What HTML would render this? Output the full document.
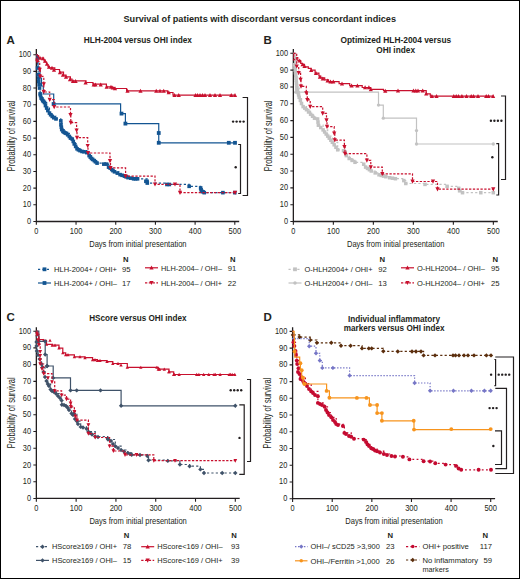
<!DOCTYPE html>
<html><head><meta charset="utf-8"><style>
html,body{margin:0;padding:0;background:#fff;}
svg{display:block;}
text{font-family:"Liberation Sans",sans-serif;fill:#231f20;}
.ti{font-size:9.9px;font-weight:bold;}
.pl{font-size:11.5px;font-weight:bold;}
.pt{font-size:8.4px;font-weight:bold;}
.tk{font-size:8.4px;}
.at{font-size:9.6px;}
.yl{font-size:10.2px;}
.lg{font-size:7.7px;}
.nn{font-size:7.7px;font-weight:bold;}
</style></head><body>
<svg width="520" height="579" viewBox="0 0 520 579">
<rect x="0" y="0" width="520" height="579" fill="#fff"/>
<rect x="0.5" y="0.5" width="519" height="578" fill="none" stroke="#000" stroke-width="1"/>

<text x="123.5" y="21.5" class="ti" textLength="272.5" lengthAdjust="spacingAndGlyphs">Survival of patients with discordant versus concordant indices</text>
<text x="6.4" y="43.8" class="pl">A</text>
<text x="83.7" y="43" class="pt" textLength="108.3" lengthAdjust="spacingAndGlyphs">HLH-2004 versus OHI index</text>
<path d="M36.35 49V221.5H239.2" fill="none" stroke="#231f20" stroke-width="1.3"/>
<path d="M33.35 221.5H36.35M33.35 204.82H36.35M33.35 188.14H36.35M33.35 171.46H36.35M33.35 154.78H36.35M33.35 138.1H36.35M33.35 121.42H36.35M33.35 104.74H36.35M33.35 88.06H36.35M33.35 71.38H36.35M33.35 54.7H36.35M36.35 221.5V224.7M76.04 221.5V224.7M115.73 221.5V224.7M155.42 221.5V224.7M195.11 221.5V224.7M234.8 221.5V224.7" stroke="#231f20" stroke-width="1.1"/>
<text x="31.05" y="224" text-anchor="end" class="tk" textLength="4.1" lengthAdjust="spacingAndGlyphs">0</text>
<text x="31.05" y="207.32" text-anchor="end" class="tk" textLength="8.3" lengthAdjust="spacingAndGlyphs">10</text>
<text x="31.05" y="190.64" text-anchor="end" class="tk" textLength="8.3" lengthAdjust="spacingAndGlyphs">20</text>
<text x="31.05" y="173.96" text-anchor="end" class="tk" textLength="8.3" lengthAdjust="spacingAndGlyphs">30</text>
<text x="31.05" y="157.28" text-anchor="end" class="tk" textLength="8.3" lengthAdjust="spacingAndGlyphs">40</text>
<text x="31.05" y="140.6" text-anchor="end" class="tk" textLength="8.3" lengthAdjust="spacingAndGlyphs">50</text>
<text x="31.05" y="123.92" text-anchor="end" class="tk" textLength="8.3" lengthAdjust="spacingAndGlyphs">60</text>
<text x="31.05" y="107.24" text-anchor="end" class="tk" textLength="8.3" lengthAdjust="spacingAndGlyphs">70</text>
<text x="31.05" y="90.56" text-anchor="end" class="tk" textLength="8.3" lengthAdjust="spacingAndGlyphs">80</text>
<text x="31.05" y="73.88" text-anchor="end" class="tk" textLength="8.3" lengthAdjust="spacingAndGlyphs">90</text>
<text x="31.05" y="57.2" text-anchor="end" class="tk" textLength="12.4" lengthAdjust="spacingAndGlyphs">100</text>
<text x="36.35" y="233.8" text-anchor="middle" class="tk" textLength="4.1" lengthAdjust="spacingAndGlyphs">0</text>
<text x="76.04" y="233.8" text-anchor="middle" class="tk" textLength="12.6" lengthAdjust="spacingAndGlyphs">100</text>
<text x="115.73" y="233.8" text-anchor="middle" class="tk" textLength="12.6" lengthAdjust="spacingAndGlyphs">200</text>
<text x="155.42" y="233.8" text-anchor="middle" class="tk" textLength="12.6" lengthAdjust="spacingAndGlyphs">300</text>
<text x="195.11" y="233.8" text-anchor="middle" class="tk" textLength="12.6" lengthAdjust="spacingAndGlyphs">400</text>
<text x="234.8" y="233.8" text-anchor="middle" class="tk" textLength="12.6" lengthAdjust="spacingAndGlyphs">500</text>
<text x="137.88" y="246.9" text-anchor="middle" class="at" textLength="97.4" lengthAdjust="spacingAndGlyphs">Days from initial presentation</text>
<text transform="translate(15.05 135.9) rotate(-90)" text-anchor="middle" class="yl" textLength="70.8" lengthAdjust="spacingAndGlyphs">Probability of survival</text>
<path d="M36.35 54.7H37.1V55.7H38.6V58H43.6V60H45V62H46.5V64.5H48V66.5H49.4V67.8H54.8V69.5H59.5V72.1H63.5V75.2H66V76.95H70.4V79H72V80.8H86V82.5H92.9V84.2H106.4V86.8H112V87.7H114.5V88.5H126.6V90.8H167.5V92.5H173V95.2H234.8" fill="none" stroke="#c8102e" stroke-width="1.2"/>
<path d="M35.4 58.8L39.6 58.8L37.5 54.8Z" fill="#c8102e"/>
<path d="M37.9 59.8L42.1 59.8L40 55.8Z" fill="#c8102e"/>
<path d="M40.9 60.3L45.1 60.3L43 56.3Z" fill="#c8102e"/>
<path d="M42.9 62.8L47.1 62.8L45 58.8Z" fill="#c8102e"/>
<path d="M44.9 65.8L49.1 65.8L47 61.8Z" fill="#c8102e"/>
<path d="M46.9 68.8L51.1 68.8L49 64.8Z" fill="#c8102e"/>
<path d="M49.9 69.8L54.1 69.8L52 65.8Z" fill="#c8102e"/>
<path d="M51.9 71.8L56.1 71.8L54 67.8Z" fill="#c8102e"/>
<path d="M57.9 74.3L62.1 74.3L60 70.3Z" fill="#c8102e"/>
<path d="M60.9 76.8L65.1 76.8L63 72.8Z" fill="#c8102e"/>
<path d="M63.9 78.8L68.1 78.8L66 74.8Z" fill="#c8102e"/>
<path d="M67.9 81.3L72.1 81.3L70 77.3Z" fill="#c8102e"/>
<path d="M70.9 82.9L75.1 82.9L73 78.9Z" fill="#c8102e"/>
<path d="M73.5 82.9L77.7 82.9L75.6 78.9Z" fill="#c8102e"/>
<path d="M83.5 84.6L87.7 84.6L85.6 80.6Z" fill="#c8102e"/>
<path d="M91.6 86.4L95.8 86.4L93.7 82.4Z" fill="#c8102e"/>
<path d="M93.4 86.4L97.6 86.4L95.5 82.4Z" fill="#c8102e"/>
<path d="M98.6 86.4L102.8 86.4L100.7 82.4Z" fill="#c8102e"/>
<path d="M104.6 88.8L108.8 88.8L106.7 84.8Z" fill="#c8102e"/>
<path d="M108.9 88.8L113.1 88.8L111 84.8Z" fill="#c8102e"/>
<path d="M110.7 89.5L114.9 89.5L112.8 85.5Z" fill="#c8102e"/>
<path d="M112.9 90.3L117.1 90.3L115 86.3Z" fill="#c8102e"/>
<path d="M125.4 92.8L129.6 92.8L127.5 88.8Z" fill="#c8102e"/>
<path d="M138.4 92.8L142.6 92.8L140.5 88.8Z" fill="#c8102e"/>
<path d="M154.15 92.8L158.35 92.8L156.25 88.8Z" fill="#c8102e"/>
<path d="M157.9 92.8L162.1 92.8L160 88.8Z" fill="#c8102e"/>
<path d="M161.65 92.8L165.85 92.8L163.75 88.8Z" fill="#c8102e"/>
<path d="M166.65 94.3L170.85 94.3L168.75 90.3Z" fill="#c8102e"/>
<path d="M172.4 97.1L176.6 97.1L174.5 93.1Z" fill="#c8102e"/>
<path d="M176.65 97.1L180.85 97.1L178.75 93.1Z" fill="#c8102e"/>
<path d="M193.4 97.1L197.6 97.1L195.5 93.1Z" fill="#c8102e"/>
<path d="M195.4 97.1L199.6 97.1L197.5 93.1Z" fill="#c8102e"/>
<path d="M197.9 97.1L202.1 97.1L200 93.1Z" fill="#c8102e"/>
<path d="M200.4 97.1L204.6 97.1L202.5 93.1Z" fill="#c8102e"/>
<path d="M202.9 97.1L207.1 97.1L205 93.1Z" fill="#c8102e"/>
<path d="M207.9 97.1L212.1 97.1L210 93.1Z" fill="#c8102e"/>
<path d="M212.9 97.1L217.1 97.1L215 93.1Z" fill="#c8102e"/>
<path d="M217.9 97.1L222.1 97.1L220 93.1Z" fill="#c8102e"/>
<path d="M229.15 97.1L233.35 97.1L231.25 93.1Z" fill="#c8102e"/>
<path d="M232.9 97.1L237.1 97.1L235 93.1Z" fill="#c8102e"/>
<path d="M36.35 54.7H37V58H38V68H40V78H41.5V86H43.3V94H53.7V103.9H120.6V113.6H125.4V123.6H158.75V133H158.75V142.8H234.8" fill="none" stroke="#135592" stroke-width="1.2"/>
<rect x="51.7" y="102.1" width="3.8" height="3.8" fill="#135592"/>
<rect x="119.6" y="111.7" width="3.8" height="3.8" fill="#135592"/>
<rect x="123.5" y="121.7" width="3.8" height="3.8" fill="#135592"/>
<rect x="156.85" y="131.1" width="3.8" height="3.8" fill="#135592"/>
<rect x="156.85" y="140.9" width="3.8" height="3.8" fill="#135592"/>
<rect x="226.9" y="140.9" width="3.8" height="3.8" fill="#135592"/>
<rect x="233.1" y="140.9" width="3.8" height="3.8" fill="#135592"/>
<path d="M36.35 54.7H36.95V61.37H37.54V68.04H38.14V74.72H38.73V81.39H39.53V88.06H40.12V93.9H41.11V98.07H42.7V100.57H44.53V102.57H46.67V108.08H49.45V113.08H52.23V116.42H56V118.92H60.8V120.92H61.75V129.59H64.13V132.26H66.51V133.43H69.29V136.43H72.27V139.1H74.25V143.94H77.03V148.78H80.01V150.61H86.76V152.61H89.14V155.61H91.52V158.45H94.3V160.62H97.08V163.12H106.6V164.12H108.59V167.12H111.76V169.46H114.54V171.79H120.1V174.63H124.46V176.13H128.03V177.63H133.59V178.8H147.09V181.3H147.28V183.05H166.93V184.47H189.16V186.31H200.67V187.97H201.86V191.31H204.24V192.64H234.8" fill="none" stroke="#135592" stroke-width="1.2" stroke-dasharray="2.2 2.2"/>
<rect x="35.74" y="66.24" width="3.61" height="3.61" fill="#135592"/>
<rect x="36.33" y="72.91" width="3.61" height="3.61" fill="#135592"/>
<rect x="36.93" y="79.58" width="3.61" height="3.61" fill="#135592"/>
<rect x="37.72" y="86.25" width="3.61" height="3.61" fill="#135592"/>
<rect x="38.32" y="92.09" width="3.61" height="3.61" fill="#135592"/>
<rect x="39.31" y="96.26" width="3.61" height="3.61" fill="#135592"/>
<rect x="40.9" y="98.77" width="3.61" height="3.61" fill="#135592"/>
<rect x="42.72" y="100.77" width="3.61" height="3.61" fill="#135592"/>
<rect x="44.86" y="106.27" width="3.61" height="3.61" fill="#135592"/>
<rect x="47.64" y="111.27" width="3.61" height="3.61" fill="#135592"/>
<rect x="50.42" y="114.61" width="3.61" height="3.61" fill="#135592"/>
<rect x="54.19" y="117.11" width="3.61" height="3.61" fill="#135592"/>
<rect x="58.99" y="119.11" width="3.61" height="3.61" fill="#135592"/>
<rect x="59.95" y="127.79" width="3.61" height="3.61" fill="#135592"/>
<rect x="62.33" y="130.46" width="3.61" height="3.61" fill="#135592"/>
<rect x="64.71" y="131.62" width="3.61" height="3.61" fill="#135592"/>
<rect x="67.49" y="134.63" width="3.61" height="3.61" fill="#135592"/>
<rect x="70.46" y="137.3" width="3.61" height="3.61" fill="#135592"/>
<rect x="72.45" y="142.13" width="3.61" height="3.61" fill="#135592"/>
<rect x="75.23" y="146.97" width="3.61" height="3.61" fill="#135592"/>
<rect x="78.2" y="148.81" width="3.61" height="3.61" fill="#135592"/>
<rect x="84.95" y="150.81" width="3.61" height="3.61" fill="#135592"/>
<rect x="87.33" y="153.81" width="3.61" height="3.61" fill="#135592"/>
<rect x="89.71" y="156.64" width="3.61" height="3.61" fill="#135592"/>
<rect x="92.49" y="158.81" width="3.61" height="3.61" fill="#135592"/>
<rect x="95.27" y="161.31" width="3.61" height="3.61" fill="#135592"/>
<rect x="104.8" y="162.32" width="3.61" height="3.61" fill="#135592"/>
<rect x="106.78" y="165.32" width="3.61" height="3.61" fill="#135592"/>
<rect x="109.96" y="167.65" width="3.61" height="3.61" fill="#135592"/>
<rect x="112.73" y="169.99" width="3.61" height="3.61" fill="#135592"/>
<rect x="118.29" y="172.82" width="3.61" height="3.61" fill="#135592"/>
<rect x="122.66" y="174.33" width="3.61" height="3.61" fill="#135592"/>
<rect x="126.23" y="175.83" width="3.61" height="3.61" fill="#135592"/>
<rect x="131.79" y="176.99" width="3.61" height="3.61" fill="#135592"/>
<rect x="145.28" y="179.5" width="3.61" height="3.61" fill="#135592"/>
<rect x="145.48" y="181.25" width="3.61" height="3.61" fill="#135592"/>
<rect x="165.13" y="182.67" width="3.61" height="3.61" fill="#135592"/>
<rect x="187.35" y="184.5" width="3.61" height="3.61" fill="#135592"/>
<rect x="198.86" y="186.17" width="3.61" height="3.61" fill="#135592"/>
<rect x="200.05" y="189.5" width="3.61" height="3.61" fill="#135592"/>
<rect x="202.43" y="190.84" width="3.61" height="3.61" fill="#135592"/>
<rect x="36.73" y="76.25" width="3.61" height="3.61" fill="#135592"/>
<rect x="37.32" y="82.92" width="3.61" height="3.61" fill="#135592"/>
<rect x="38.71" y="93.76" width="3.61" height="3.61" fill="#135592"/>
<rect x="40.1" y="97.1" width="3.61" height="3.61" fill="#135592"/>
<rect x="41.69" y="99.6" width="3.61" height="3.61" fill="#135592"/>
<rect x="43.67" y="103.77" width="3.61" height="3.61" fill="#135592"/>
<rect x="46.06" y="108.77" width="3.61" height="3.61" fill="#135592"/>
<rect x="48.83" y="112.94" width="3.61" height="3.61" fill="#135592"/>
<rect x="52.01" y="115.95" width="3.61" height="3.61" fill="#135592"/>
<rect x="59.15" y="122.95" width="3.61" height="3.61" fill="#135592"/>
<rect x="59.55" y="125.45" width="3.61" height="3.61" fill="#135592"/>
<rect x="61.14" y="129.62" width="3.61" height="3.61" fill="#135592"/>
<rect x="63.52" y="131.29" width="3.61" height="3.61" fill="#135592"/>
<rect x="65.9" y="132.96" width="3.61" height="3.61" fill="#135592"/>
<rect x="68.68" y="136.3" width="3.61" height="3.61" fill="#135592"/>
<rect x="71.46" y="139.63" width="3.61" height="3.61" fill="#135592"/>
<rect x="73.84" y="144.63" width="3.61" height="3.61" fill="#135592"/>
<rect x="76.62" y="147.97" width="3.61" height="3.61" fill="#135592"/>
<rect x="80.19" y="149.64" width="3.61" height="3.61" fill="#135592"/>
<rect x="82.17" y="149.97" width="3.61" height="3.61" fill="#135592"/>
<rect x="88.52" y="155.31" width="3.61" height="3.61" fill="#135592"/>
<rect x="90.9" y="157.65" width="3.61" height="3.61" fill="#135592"/>
<rect x="93.68" y="159.98" width="3.61" height="3.61" fill="#135592"/>
<rect x="102.02" y="162.32" width="3.61" height="3.61" fill="#135592"/>
<rect x="108.37" y="166.32" width="3.61" height="3.61" fill="#135592"/>
<rect x="111.15" y="168.82" width="3.61" height="3.61" fill="#135592"/>
<rect x="115.51" y="171.32" width="3.61" height="3.61" fill="#135592"/>
<rect x="120.28" y="173.49" width="3.61" height="3.61" fill="#135592"/>
<rect x="124.24" y="174.99" width="3.61" height="3.61" fill="#135592"/>
<rect x="129.01" y="176.33" width="3.61" height="3.61" fill="#135592"/>
<rect x="133.77" y="176.99" width="3.61" height="3.61" fill="#135592"/>
<rect x="135.75" y="176.99" width="3.61" height="3.61" fill="#135592"/>
<rect x="144.09" y="179.5" width="3.61" height="3.61" fill="#135592"/>
<rect x="167.51" y="182.67" width="3.61" height="3.61" fill="#135592"/>
<rect x="199.26" y="188" width="3.61" height="3.61" fill="#135592"/>
<rect x="201.24" y="190" width="3.61" height="3.61" fill="#135592"/>
<rect x="221.09" y="190.84" width="3.61" height="3.61" fill="#135592"/>
<rect x="232.99" y="190.84" width="3.61" height="3.61" fill="#135592"/>
<path d="M36.35 54.7H37.1V61.4H39.7V69.7H40.2V76.4H43.8V84.2H43.8V92H49.7V99.7H54.2V107H70.5V115H70.8V122.7H76.6V130.4H77V137.7H87.7V145.8H88V153H110V161H110.5V167.9H125.6V176.1H155V184.3H180V192.6H234.8" fill="none" stroke="#c8102e" stroke-width="1.2" stroke-dasharray="2.3 1.5"/>
<path d="M35 59.51L39.2 59.51L37.1 63.71Z" fill="#c8102e"/>
<path d="M37.6 67.81L41.8 67.81L39.7 72.01Z" fill="#c8102e"/>
<path d="M38.1 74.51L42.3 74.51L40.2 78.71Z" fill="#c8102e"/>
<path d="M41.7 82.31L45.9 82.31L43.8 86.51Z" fill="#c8102e"/>
<path d="M41.7 90.11L45.9 90.11L43.8 94.31Z" fill="#c8102e"/>
<path d="M47.6 97.81L51.8 97.81L49.7 102.01Z" fill="#c8102e"/>
<path d="M52.1 105.11L56.3 105.11L54.2 109.31Z" fill="#c8102e"/>
<path d="M68.4 113.11L72.6 113.11L70.5 117.31Z" fill="#c8102e"/>
<path d="M68.7 120.81L72.9 120.81L70.8 125.01Z" fill="#c8102e"/>
<path d="M74.5 128.51L78.7 128.51L76.6 132.71Z" fill="#c8102e"/>
<path d="M74.9 135.81L79.1 135.81L77 140.01Z" fill="#c8102e"/>
<path d="M85.6 143.91L89.8 143.91L87.7 148.11Z" fill="#c8102e"/>
<path d="M85.9 151.11L90.1 151.11L88 155.31Z" fill="#c8102e"/>
<path d="M107.9 159.11L112.1 159.11L110 163.31Z" fill="#c8102e"/>
<path d="M108.4 166.01L112.6 166.01L110.5 170.21Z" fill="#c8102e"/>
<path d="M123.5 174.21L127.7 174.21L125.6 178.41Z" fill="#c8102e"/>
<path d="M152.9 182.41L157.1 182.41L155 186.61Z" fill="#c8102e"/>
<path d="M177.9 190.71L182.1 190.71L180 194.91Z" fill="#c8102e"/>
<path d="M172.9 182.41L177.1 182.41L175 186.61Z" fill="#c8102e"/>
<path d="M233 190.71L237.2 190.71L235.1 194.91Z" fill="#c8102e"/>
<path d="M242.6 97.5H247.5V195.5H242.6" fill="none" stroke="#231f20" stroke-width="1.2"/>
<path d="M238.2 144.5H240.5V193.5H238.2" fill="none" stroke="#231f20" stroke-width="1.2"/>
<g fill="#231f20"><circle cx="233.1" cy="121.6" r="1.2"/><circle cx="236.6" cy="121.6" r="1.2"/><circle cx="240.1" cy="121.6" r="1.2"/><circle cx="243.6" cy="121.6" r="1.2"/></g>
<g fill="#231f20"><circle cx="235.7" cy="167.2" r="1.2"/></g>
<text x="123" y="261.9" class="nn">N</text>
<text x="230" y="261.9" class="nn">N</text>
<path d="M38 269.3H51" stroke="#135592" stroke-width="1.2" stroke-dasharray="2.2 2.2"/>
<rect x="42.6" y="267.4" width="3.8" height="3.8" fill="#135592"/>
<text x="54" y="272" class="lg" textLength="63" lengthAdjust="spacingAndGlyphs">HLH-2004+ / OHI+</text>
<text x="130.5" y="272" class="lg" text-anchor="end">95</text>
<path d="M38 283H51" stroke="#135592" stroke-width="1.2"/>
<rect x="42.6" y="281.1" width="3.8" height="3.8" fill="#135592"/>
<text x="54" y="285.7" class="lg" textLength="63" lengthAdjust="spacingAndGlyphs">HLH-2004+ / OHI–</text>
<text x="130.5" y="285.7" class="lg" text-anchor="end">17</text>
<path d="M145 267.8H158" stroke="#c8102e" stroke-width="1.2"/>
<path d="M149.4 269.6L153.6 269.6L151.5 265.6Z" fill="#c8102e"/>
<text x="161" y="270.5" class="lg" textLength="61" lengthAdjust="spacingAndGlyphs">HLH-2004– / OHI–</text>
<text x="236.3" y="270.5" class="lg" text-anchor="end">91</text>
<path d="M145 282.8H158" stroke="#c8102e" stroke-width="1.2" stroke-dasharray="2.3 1.5"/>
<path d="M149.4 280.91L153.6 280.91L151.5 285.11Z" fill="#c8102e"/>
<text x="161" y="285.5" class="lg" textLength="61" lengthAdjust="spacingAndGlyphs">HLH-2004– / OHI+</text>
<text x="236.3" y="285.5" class="lg" text-anchor="end">22</text>
<text x="263.4" y="43.6" class="pl">B</text>
<text x="340.5" y="43" class="pt" textLength="110.7" lengthAdjust="spacingAndGlyphs">Optimized HLH-2004 versus</text>
<text x="376.3" y="52.5" class="pt" textLength="38.7" lengthAdjust="spacingAndGlyphs">OHI index</text>
<path d="M293.35 49V221.5H497.75" fill="none" stroke="#231f20" stroke-width="1.3"/>
<path d="M290.35 221.5H293.35M290.35 204.68H293.35M290.35 187.86H293.35M290.35 171.04H293.35M290.35 154.22H293.35M290.35 137.4H293.35M290.35 120.58H293.35M290.35 103.76H293.35M290.35 86.94H293.35M290.35 70.12H293.35M290.35 53.3H293.35M293.35 221.5V224.7M333.35 221.5V224.7M373.35 221.5V224.7M413.35 221.5V224.7M453.35 221.5V224.7M493.35 221.5V224.7" stroke="#231f20" stroke-width="1.1"/>
<text x="288.05" y="224" text-anchor="end" class="tk" textLength="4.1" lengthAdjust="spacingAndGlyphs">0</text>
<text x="288.05" y="207.18" text-anchor="end" class="tk" textLength="8.3" lengthAdjust="spacingAndGlyphs">10</text>
<text x="288.05" y="190.36" text-anchor="end" class="tk" textLength="8.3" lengthAdjust="spacingAndGlyphs">20</text>
<text x="288.05" y="173.54" text-anchor="end" class="tk" textLength="8.3" lengthAdjust="spacingAndGlyphs">30</text>
<text x="288.05" y="156.72" text-anchor="end" class="tk" textLength="8.3" lengthAdjust="spacingAndGlyphs">40</text>
<text x="288.05" y="139.9" text-anchor="end" class="tk" textLength="8.3" lengthAdjust="spacingAndGlyphs">50</text>
<text x="288.05" y="123.08" text-anchor="end" class="tk" textLength="8.3" lengthAdjust="spacingAndGlyphs">60</text>
<text x="288.05" y="106.26" text-anchor="end" class="tk" textLength="8.3" lengthAdjust="spacingAndGlyphs">70</text>
<text x="288.05" y="89.44" text-anchor="end" class="tk" textLength="8.3" lengthAdjust="spacingAndGlyphs">80</text>
<text x="288.05" y="72.62" text-anchor="end" class="tk" textLength="8.3" lengthAdjust="spacingAndGlyphs">90</text>
<text x="288.05" y="55.8" text-anchor="end" class="tk" textLength="12.4" lengthAdjust="spacingAndGlyphs">100</text>
<text x="293.35" y="233.8" text-anchor="middle" class="tk" textLength="4.1" lengthAdjust="spacingAndGlyphs">0</text>
<text x="333.35" y="233.8" text-anchor="middle" class="tk" textLength="12.6" lengthAdjust="spacingAndGlyphs">100</text>
<text x="373.35" y="233.8" text-anchor="middle" class="tk" textLength="12.6" lengthAdjust="spacingAndGlyphs">200</text>
<text x="413.35" y="233.8" text-anchor="middle" class="tk" textLength="12.6" lengthAdjust="spacingAndGlyphs">300</text>
<text x="453.35" y="233.8" text-anchor="middle" class="tk" textLength="12.6" lengthAdjust="spacingAndGlyphs">400</text>
<text x="493.35" y="233.8" text-anchor="middle" class="tk" textLength="12.6" lengthAdjust="spacingAndGlyphs">500</text>
<text x="395.65" y="246.9" text-anchor="middle" class="at" textLength="97.4" lengthAdjust="spacingAndGlyphs">Days from initial presentation</text>
<text transform="translate(272.05 135.9) rotate(-90)" text-anchor="middle" class="yl" textLength="70.8" lengthAdjust="spacingAndGlyphs">Probability of survival</text>
<path d="M293.35 53.3H293.9V57.7H297.8V60.6H300.7V63.5H302.6V64.4H304.5V66.9H308.3V68.3H311.2V70.2H315.1V73.1H318.9V76H320.8V77.9H324.7V79.8H328.5V81.7H339.1V83.7H349.7V85.6H362.2V87.5H370.8V89.4H383.5V90.6H426.2V93.8H430.3V96.2H493.35" fill="none" stroke="#c8102e" stroke-width="1.2"/>
<path d="M292.8 60.5L297 60.5L294.9 56.5Z" fill="#c8102e"/>
<path d="M297.6 62.4L301.8 62.4L299.7 58.4Z" fill="#c8102e"/>
<path d="M300.5 66.2L304.7 66.2L302.6 62.2Z" fill="#c8102e"/>
<path d="M302.4 68.1L306.6 68.1L304.5 64.1Z" fill="#c8102e"/>
<path d="M309.1 72L313.3 72L311.2 68Z" fill="#c8102e"/>
<path d="M313.9 74.9L318.1 74.9L316 70.9Z" fill="#c8102e"/>
<path d="M317.8 78.7L322 78.7L319.9 74.7Z" fill="#c8102e"/>
<path d="M320.7 80.6L324.9 80.6L322.8 76.6Z" fill="#c8102e"/>
<path d="M325.5 82.6L329.7 82.6L327.6 78.6Z" fill="#c8102e"/>
<path d="M328.4 83.5L332.6 83.5L330.5 79.5Z" fill="#c8102e"/>
<path d="M331.2 83.5L335.4 83.5L333.3 79.5Z" fill="#c8102e"/>
<path d="M339.9 85.5L344.1 85.5L342 81.5Z" fill="#c8102e"/>
<path d="M349.5 87.4L353.7 87.4L351.6 83.4Z" fill="#c8102e"/>
<path d="M355.3 87.4L359.5 87.4L357.4 83.4Z" fill="#c8102e"/>
<path d="M363 89.3L367.2 89.3L365.1 85.3Z" fill="#c8102e"/>
<path d="M366.8 89.3L371 89.3L368.9 85.3Z" fill="#c8102e"/>
<path d="M368.7 91.2L372.9 91.2L370.8 87.2Z" fill="#c8102e"/>
<path d="M383.2 92.8L387.4 92.8L385.3 88.8Z" fill="#c8102e"/>
<path d="M395.9 92.4L400.1 92.4L398 88.4Z" fill="#c8102e"/>
<path d="M411.4 92.4L415.6 92.4L413.5 88.4Z" fill="#c8102e"/>
<path d="M413.7 92.4L417.9 92.4L415.8 88.4Z" fill="#c8102e"/>
<path d="M415.9 92.4L420.1 92.4L418 88.4Z" fill="#c8102e"/>
<path d="M420.6 92.4L424.8 92.4L422.7 88.4Z" fill="#c8102e"/>
<path d="M424.1 95.6L428.3 95.6L426.2 91.6Z" fill="#c8102e"/>
<path d="M429.8 98L434 98L431.9 94Z" fill="#c8102e"/>
<path d="M434.4 98L438.6 98L436.5 94Z" fill="#c8102e"/>
<path d="M451.7 98L455.9 98L453.8 94Z" fill="#c8102e"/>
<path d="M454.1 98L458.3 98L456.2 94Z" fill="#c8102e"/>
<path d="M456.4 98L460.6 98L458.5 94Z" fill="#c8102e"/>
<path d="M459.8 98L464 98L461.9 94Z" fill="#c8102e"/>
<path d="M464.4 98L468.6 98L466.5 94Z" fill="#c8102e"/>
<path d="M469.1 98L473.3 98L471.2 94Z" fill="#c8102e"/>
<path d="M471.4 98L475.6 98L473.5 94Z" fill="#c8102e"/>
<path d="M475.9 98L480.1 98L478 94Z" fill="#c8102e"/>
<path d="M484.1 98L488.3 98L486.2 94Z" fill="#c8102e"/>
<path d="M486.4 98L490.6 98L488.5 94Z" fill="#c8102e"/>
<path d="M491 98L495.2 98L493.1 94Z" fill="#c8102e"/>
<path d="M293.35 53.3H294.6V64.7H295.8V75.5H296.9V88H299.2V97.3H301.5V103.5H303.1V106.6H306.5V109.7H310.6V114.3H314.5V118.2H317.6V119H318.4V125.2H323.1V129.9H327.7V136.1H332.4V142.3H337.7V149.8H343.5V150.8H346.3V155.6H349.2V158.5H352.1V160.4H355V162.3H363.7V164.2H365.6V167.1H371.3V171H375.2V172.9H379V174.8H385.8V176.7H389.6V177.7H395.4V178.7H403.8V180.6H405.8V183.5H425V184.4H447.1V186.3H458.7V188.3H459.6V190.8H462.5V192.7H480.8V192.7H493.3V192.7H493.35" fill="none" stroke="#c2c2c2" stroke-width="1.2" stroke-dasharray="2.2 2.2"/>
<rect x="292.85" y="62.95" width="3.5" height="3.5" fill="#c2c2c2"/>
<rect x="293.15" y="65.65" width="3.5" height="3.5" fill="#c2c2c2"/>
<rect x="293.45" y="68.35" width="3.5" height="3.5" fill="#c2c2c2"/>
<rect x="293.75" y="71.05" width="3.5" height="3.5" fill="#c2c2c2"/>
<rect x="294.05" y="73.75" width="3.5" height="3.5" fill="#c2c2c2"/>
<rect x="294.27" y="76.25" width="3.5" height="3.5" fill="#c2c2c2"/>
<rect x="294.49" y="78.75" width="3.5" height="3.5" fill="#c2c2c2"/>
<rect x="294.71" y="81.25" width="3.5" height="3.5" fill="#c2c2c2"/>
<rect x="294.93" y="83.75" width="3.5" height="3.5" fill="#c2c2c2"/>
<rect x="295.15" y="86.25" width="3.5" height="3.5" fill="#c2c2c2"/>
<rect x="295.73" y="88.58" width="3.5" height="3.5" fill="#c2c2c2"/>
<rect x="296.3" y="90.9" width="3.5" height="3.5" fill="#c2c2c2"/>
<rect x="296.88" y="93.23" width="3.5" height="3.5" fill="#c2c2c2"/>
<rect x="297.45" y="95.55" width="3.5" height="3.5" fill="#c2c2c2"/>
<rect x="298.6" y="98.65" width="3.5" height="3.5" fill="#c2c2c2"/>
<rect x="299.75" y="101.75" width="3.5" height="3.5" fill="#c2c2c2"/>
<rect x="301.35" y="104.85" width="3.5" height="3.5" fill="#c2c2c2"/>
<rect x="303.05" y="106.4" width="3.5" height="3.5" fill="#c2c2c2"/>
<rect x="304.75" y="107.95" width="3.5" height="3.5" fill="#c2c2c2"/>
<rect x="306.8" y="110.25" width="3.5" height="3.5" fill="#c2c2c2"/>
<rect x="308.85" y="112.55" width="3.5" height="3.5" fill="#c2c2c2"/>
<rect x="310.8" y="114.5" width="3.5" height="3.5" fill="#c2c2c2"/>
<rect x="312.75" y="116.45" width="3.5" height="3.5" fill="#c2c2c2"/>
<rect x="315.85" y="117.25" width="3.5" height="3.5" fill="#c2c2c2"/>
<rect x="316.25" y="120.35" width="3.5" height="3.5" fill="#c2c2c2"/>
<rect x="316.65" y="123.45" width="3.5" height="3.5" fill="#c2c2c2"/>
<rect x="319" y="125.8" width="3.5" height="3.5" fill="#c2c2c2"/>
<rect x="321.35" y="128.15" width="3.5" height="3.5" fill="#c2c2c2"/>
<rect x="322.89" y="130.22" width="3.5" height="3.5" fill="#c2c2c2"/>
<rect x="324.42" y="132.29" width="3.5" height="3.5" fill="#c2c2c2"/>
<rect x="325.95" y="134.35" width="3.5" height="3.5" fill="#c2c2c2"/>
<rect x="327.52" y="136.42" width="3.5" height="3.5" fill="#c2c2c2"/>
<rect x="329.09" y="138.49" width="3.5" height="3.5" fill="#c2c2c2"/>
<rect x="330.65" y="140.55" width="3.5" height="3.5" fill="#c2c2c2"/>
<rect x="332.42" y="143.05" width="3.5" height="3.5" fill="#c2c2c2"/>
<rect x="334.19" y="145.55" width="3.5" height="3.5" fill="#c2c2c2"/>
<rect x="335.95" y="148.05" width="3.5" height="3.5" fill="#c2c2c2"/>
<rect x="341.75" y="149.05" width="3.5" height="3.5" fill="#c2c2c2"/>
<rect x="344.55" y="153.85" width="3.5" height="3.5" fill="#c2c2c2"/>
<rect x="347.45" y="156.75" width="3.5" height="3.5" fill="#c2c2c2"/>
<rect x="350.35" y="158.65" width="3.5" height="3.5" fill="#c2c2c2"/>
<rect x="353.25" y="160.55" width="3.5" height="3.5" fill="#c2c2c2"/>
<rect x="361.95" y="162.45" width="3.5" height="3.5" fill="#c2c2c2"/>
<rect x="363.85" y="165.35" width="3.5" height="3.5" fill="#c2c2c2"/>
<rect x="365.75" y="166.65" width="3.5" height="3.5" fill="#c2c2c2"/>
<rect x="367.65" y="167.95" width="3.5" height="3.5" fill="#c2c2c2"/>
<rect x="369.55" y="169.25" width="3.5" height="3.5" fill="#c2c2c2"/>
<rect x="373.45" y="171.15" width="3.5" height="3.5" fill="#c2c2c2"/>
<rect x="377.25" y="173.05" width="3.5" height="3.5" fill="#c2c2c2"/>
<rect x="379.52" y="173.69" width="3.5" height="3.5" fill="#c2c2c2"/>
<rect x="381.79" y="174.32" width="3.5" height="3.5" fill="#c2c2c2"/>
<rect x="384.05" y="174.95" width="3.5" height="3.5" fill="#c2c2c2"/>
<rect x="387.85" y="175.95" width="3.5" height="3.5" fill="#c2c2c2"/>
<rect x="390.75" y="176.45" width="3.5" height="3.5" fill="#c2c2c2"/>
<rect x="393.65" y="176.95" width="3.5" height="3.5" fill="#c2c2c2"/>
<rect x="402.05" y="178.85" width="3.5" height="3.5" fill="#c2c2c2"/>
<rect x="404.05" y="181.75" width="3.5" height="3.5" fill="#c2c2c2"/>
<rect x="423.25" y="182.65" width="3.5" height="3.5" fill="#c2c2c2"/>
<rect x="445.35" y="184.55" width="3.5" height="3.5" fill="#c2c2c2"/>
<rect x="456.95" y="186.55" width="3.5" height="3.5" fill="#c2c2c2"/>
<rect x="457.85" y="189.05" width="3.5" height="3.5" fill="#c2c2c2"/>
<rect x="460.75" y="190.95" width="3.5" height="3.5" fill="#c2c2c2"/>
<rect x="479.05" y="190.95" width="3.5" height="3.5" fill="#c2c2c2"/>
<rect x="491.55" y="190.95" width="3.5" height="3.5" fill="#c2c2c2"/>
<path d="M293.35 53.3H295.8V92.2H378.5V105.1H383.3V118.2H416.5V130.6H416.5V144H493.35" fill="none" stroke="#c2c2c2" stroke-width="1.2"/>
<circle cx="295.8" cy="92.2" r="1.66" fill="#c2c2c2"/>
<circle cx="378.5" cy="105.1" r="1.66" fill="#c2c2c2"/>
<circle cx="383.3" cy="118.2" r="1.66" fill="#c2c2c2"/>
<circle cx="416.5" cy="130.6" r="1.66" fill="#c2c2c2"/>
<circle cx="416.5" cy="144" r="1.66" fill="#c2c2c2"/>
<circle cx="493.3" cy="144" r="1.66" fill="#c2c2c2"/>
<path d="M293.35 53.3H296.7V66.3H298.7V73H300.6V79.7H301V86.4H306.3V93.2H307.3V99.9H310.2V106.7H322.7V113.4H326.5V120.1H327V126.7H334.2V133.5H334.8V140.2H344.4V146.9H345V153.7H366.9V160.4H370.8V167.1H382.3V173.8H412.5V181.5H437.5V189.2H493.35" fill="none" stroke="#c8102e" stroke-width="1.2" stroke-dasharray="2.3 1.5"/>
<path d="M294.6 64.41L298.8 64.41L296.7 68.61Z" fill="#c8102e"/>
<path d="M296.6 71.11L300.8 71.11L298.7 75.31Z" fill="#c8102e"/>
<path d="M298.5 77.81L302.7 77.81L300.6 82.01Z" fill="#c8102e"/>
<path d="M298.9 84.51L303.1 84.51L301 88.71Z" fill="#c8102e"/>
<path d="M304.2 91.31L308.4 91.31L306.3 95.51Z" fill="#c8102e"/>
<path d="M305.2 98.01L309.4 98.01L307.3 102.21Z" fill="#c8102e"/>
<path d="M308.1 104.81L312.3 104.81L310.2 109.01Z" fill="#c8102e"/>
<path d="M320.6 111.51L324.8 111.51L322.7 115.71Z" fill="#c8102e"/>
<path d="M324.4 118.21L328.6 118.21L326.5 122.41Z" fill="#c8102e"/>
<path d="M324.9 124.81L329.1 124.81L327 129.01Z" fill="#c8102e"/>
<path d="M332.1 131.61L336.3 131.61L334.2 135.81Z" fill="#c8102e"/>
<path d="M332.7 138.31L336.9 138.31L334.8 142.51Z" fill="#c8102e"/>
<path d="M342.3 145.01L346.5 145.01L344.4 149.21Z" fill="#c8102e"/>
<path d="M342.9 151.81L347.1 151.81L345 156.01Z" fill="#c8102e"/>
<path d="M364.8 158.51L369 158.51L366.9 162.71Z" fill="#c8102e"/>
<path d="M368.7 165.21L372.9 165.21L370.8 169.41Z" fill="#c8102e"/>
<path d="M380.2 171.91L384.4 171.91L382.3 176.11Z" fill="#c8102e"/>
<path d="M410.4 179.61L414.6 179.61L412.5 183.81Z" fill="#c8102e"/>
<path d="M435.4 187.31L439.6 187.31L437.5 191.51Z" fill="#c8102e"/>
<path d="M430.9 179.61L435.1 179.61L433 183.81Z" fill="#c8102e"/>
<path d="M491.2 187.31L495.4 187.31L493.3 191.51Z" fill="#c8102e"/>
<path d="M501 96H505.5V179.5H501" fill="none" stroke="#231f20" stroke-width="1.2"/>
<path d="M496.3 143.6H498.6V195H496.3" fill="none" stroke="#231f20" stroke-width="1.2"/>
<g fill="#231f20"><circle cx="490.9" cy="120.75" r="1.2"/><circle cx="494.4" cy="120.75" r="1.2"/><circle cx="497.9" cy="120.75" r="1.2"/><circle cx="501.4" cy="120.75" r="1.2"/></g>
<g fill="#231f20"><circle cx="492.35" cy="157.2" r="1.2"/></g>
<text x="379.4" y="261.9" class="nn">N</text>
<text x="492.5" y="261.9" class="nn">N</text>
<path d="M288.5 269.3H301.5" stroke="#c2c2c2" stroke-width="1.2" stroke-dasharray="2.2 2.2"/>
<rect x="293.1" y="267.4" width="3.8" height="3.8" fill="#c2c2c2"/>
<text x="304.5" y="272" class="lg" textLength="68" lengthAdjust="spacingAndGlyphs">O-HLH2004+ / OHI+</text>
<text x="386.8" y="272" class="lg" text-anchor="end">92</text>
<path d="M288.5 283H301.5" stroke="#c2c2c2" stroke-width="1.2"/>
<circle cx="295" cy="283" r="1.75" fill="#c2c2c2"/>
<text x="304.5" y="285.7" class="lg" textLength="68" lengthAdjust="spacingAndGlyphs">O-HLH2004+ / OHI–</text>
<text x="386.8" y="285.7" class="lg" text-anchor="end">13</text>
<path d="M401 267.8H414" stroke="#c8102e" stroke-width="1.2"/>
<path d="M405.4 269.6L409.6 269.6L407.5 265.6Z" fill="#c8102e"/>
<text x="417" y="270.5" class="lg" textLength="68" lengthAdjust="spacingAndGlyphs">O-HLH2004– / OHI–</text>
<text x="499.5" y="270.5" class="lg" text-anchor="end">95</text>
<path d="M401 282.8H414" stroke="#c8102e" stroke-width="1.2" stroke-dasharray="2.3 1.5"/>
<path d="M405.4 280.91L409.6 280.91L407.5 285.11Z" fill="#c8102e"/>
<text x="417" y="285.5" class="lg" textLength="68" lengthAdjust="spacingAndGlyphs">O-HLH2004– / OHI+</text>
<text x="499.5" y="285.5" class="lg" text-anchor="end">25</text>
<text x="6.6" y="321" class="pl">C</text>
<text x="89.2" y="321.2" class="pt" textLength="97.3" lengthAdjust="spacingAndGlyphs">HScore versus OHI index</text>
<path d="M36.35 327.3V498.45H239.7" fill="none" stroke="#231f20" stroke-width="1.3"/>
<path d="M33.35 498.45H36.35M33.35 481.72H36.35M33.35 465H36.35M33.35 448.27H36.35M33.35 431.55H36.35M33.35 414.82H36.35M33.35 398.1H36.35M33.35 381.38H36.35M33.35 364.65H36.35M33.35 347.92H36.35M33.35 331.2H36.35M36.35 498.45V501.65M76.14 498.45V501.65M115.93 498.45V501.65M155.72 498.45V501.65M195.51 498.45V501.65M235.3 498.45V501.65" stroke="#231f20" stroke-width="1.1"/>
<text x="31.05" y="500.95" text-anchor="end" class="tk" textLength="4.1" lengthAdjust="spacingAndGlyphs">0</text>
<text x="31.05" y="484.22" text-anchor="end" class="tk" textLength="8.3" lengthAdjust="spacingAndGlyphs">10</text>
<text x="31.05" y="467.5" text-anchor="end" class="tk" textLength="8.3" lengthAdjust="spacingAndGlyphs">20</text>
<text x="31.05" y="450.77" text-anchor="end" class="tk" textLength="8.3" lengthAdjust="spacingAndGlyphs">30</text>
<text x="31.05" y="434.05" text-anchor="end" class="tk" textLength="8.3" lengthAdjust="spacingAndGlyphs">40</text>
<text x="31.05" y="417.32" text-anchor="end" class="tk" textLength="8.3" lengthAdjust="spacingAndGlyphs">50</text>
<text x="31.05" y="400.6" text-anchor="end" class="tk" textLength="8.3" lengthAdjust="spacingAndGlyphs">60</text>
<text x="31.05" y="383.88" text-anchor="end" class="tk" textLength="8.3" lengthAdjust="spacingAndGlyphs">70</text>
<text x="31.05" y="367.15" text-anchor="end" class="tk" textLength="8.3" lengthAdjust="spacingAndGlyphs">80</text>
<text x="31.05" y="350.42" text-anchor="end" class="tk" textLength="8.3" lengthAdjust="spacingAndGlyphs">90</text>
<text x="31.05" y="333.7" text-anchor="end" class="tk" textLength="12.4" lengthAdjust="spacingAndGlyphs">100</text>
<text x="36.35" y="510.75" text-anchor="middle" class="tk" textLength="4.1" lengthAdjust="spacingAndGlyphs">0</text>
<text x="76.14" y="510.75" text-anchor="middle" class="tk" textLength="12.6" lengthAdjust="spacingAndGlyphs">100</text>
<text x="115.93" y="510.75" text-anchor="middle" class="tk" textLength="12.6" lengthAdjust="spacingAndGlyphs">200</text>
<text x="155.72" y="510.75" text-anchor="middle" class="tk" textLength="12.6" lengthAdjust="spacingAndGlyphs">300</text>
<text x="195.51" y="510.75" text-anchor="middle" class="tk" textLength="12.6" lengthAdjust="spacingAndGlyphs">400</text>
<text x="235.3" y="510.75" text-anchor="middle" class="tk" textLength="12.6" lengthAdjust="spacingAndGlyphs">500</text>
<text x="138.12" y="523.85" text-anchor="middle" class="at" textLength="97.4" lengthAdjust="spacingAndGlyphs">Days from initial presentation</text>
<text transform="translate(15.05 412.85) rotate(-90)" text-anchor="middle" class="yl" textLength="70.8" lengthAdjust="spacingAndGlyphs">Probability of survival</text>
<path d="M36.35 331.2H36.9V334.7H38.8V339.5H43.6V340.4H46.5V344.3H52.3V345.2H59V348.1H62.8V352.9H65.7V354.8H74.4V356.8H85V357.7H92.6V359.7H97.5V360.6H107V361.6H112.8V363.5H127.3V367.4H158.3V369.2H169V371.8H173.7V374.5H235.3" fill="none" stroke="#c8102e" stroke-width="1.2"/>
<path d="M35.22 336.14L38.58 336.14L36.9 332.94Z" fill="#c8102e"/>
<path d="M37.12 340.94L40.48 340.94L38.8 337.74Z" fill="#c8102e"/>
<path d="M41.92 341.84L45.28 341.84L43.6 338.64Z" fill="#c8102e"/>
<path d="M44.82 345.74L48.18 345.74L46.5 342.54Z" fill="#c8102e"/>
<path d="M50.62 346.64L53.98 346.64L52.3 343.44Z" fill="#c8102e"/>
<path d="M57.32 349.54L60.68 349.54L59 346.34Z" fill="#c8102e"/>
<path d="M61.12 354.34L64.48 354.34L62.8 351.14Z" fill="#c8102e"/>
<path d="M64.02 356.24L67.38 356.24L65.7 353.04Z" fill="#c8102e"/>
<path d="M72.72 358.24L76.08 358.24L74.4 355.04Z" fill="#c8102e"/>
<path d="M83.32 359.14L86.68 359.14L85 355.94Z" fill="#c8102e"/>
<path d="M90.92 361.14L94.28 361.14L92.6 357.94Z" fill="#c8102e"/>
<path d="M95.82 362.04L99.18 362.04L97.5 358.84Z" fill="#c8102e"/>
<path d="M105.32 363.04L108.68 363.04L107 359.84Z" fill="#c8102e"/>
<path d="M111.12 364.94L114.48 364.94L112.8 361.74Z" fill="#c8102e"/>
<path d="M125.62 368.84L128.98 368.84L127.3 365.64Z" fill="#c8102e"/>
<path d="M156.62 370.64L159.98 370.64L158.3 367.44Z" fill="#c8102e"/>
<path d="M167.32 373.24L170.68 373.24L169 370.04Z" fill="#c8102e"/>
<path d="M172.02 375.94L175.38 375.94L173.7 372.74Z" fill="#c8102e"/>
<path d="M48.32 341.84L51.68 341.84L50 338.64Z" fill="#c8102e"/>
<path d="M53.32 346.64L56.68 346.64L55 343.44Z" fill="#c8102e"/>
<path d="M66.32 356.24L69.68 356.24L68 353.04Z" fill="#c8102e"/>
<path d="M78.32 358.24L81.68 358.24L80 355.04Z" fill="#c8102e"/>
<path d="M93.32 361.14L96.68 361.14L95 357.94Z" fill="#c8102e"/>
<path d="M98.32 362.04L101.68 362.04L100 358.84Z" fill="#c8102e"/>
<path d="M116.32 364.94L119.68 364.94L118 361.74Z" fill="#c8102e"/>
<path d="M119.32 366.44L122.68 366.44L121 363.24Z" fill="#c8102e"/>
<path d="M139.12 368.84L142.48 368.84L140.8 365.64Z" fill="#c8102e"/>
<path d="M155.22 368.84L158.58 368.84L156.9 365.64Z" fill="#c8102e"/>
<path d="M157.92 370.64L161.28 370.64L159.6 367.44Z" fill="#c8102e"/>
<path d="M162.62 370.64L165.98 370.64L164.3 367.44Z" fill="#c8102e"/>
<path d="M167.32 373.24L170.68 373.24L169 370.04Z" fill="#c8102e"/>
<path d="M172.72 375.94L176.08 375.94L174.4 372.74Z" fill="#c8102e"/>
<path d="M177.42 375.94L180.78 375.94L179.1 372.74Z" fill="#c8102e"/>
<path d="M195.02 375.94L198.38 375.94L196.7 372.74Z" fill="#c8102e"/>
<path d="M197.22 375.94L200.58 375.94L198.9 372.74Z" fill="#c8102e"/>
<path d="M202.02 375.94L205.38 375.94L203.7 372.74Z" fill="#c8102e"/>
<path d="M207.12 375.94L210.48 375.94L208.8 372.74Z" fill="#c8102e"/>
<path d="M212.32 375.94L215.68 375.94L214 372.74Z" fill="#c8102e"/>
<path d="M213.62 375.94L216.98 375.94L215.3 372.74Z" fill="#c8102e"/>
<path d="M218.42 375.94L221.78 375.94L220.1 372.74Z" fill="#c8102e"/>
<path d="M227.52 375.94L230.88 375.94L229.2 372.74Z" fill="#c8102e"/>
<path d="M228.82 375.94L232.18 375.94L230.5 372.74Z" fill="#c8102e"/>
<path d="M230.52 375.94L233.88 375.94L232.2 372.74Z" fill="#c8102e"/>
<path d="M233.12 375.94L236.48 375.94L234.8 372.74Z" fill="#c8102e"/>
<path d="M36.35 331.2H38.8V341.4H45.2V354.5H47.1V366H53.2V377.9H70.5V390.4H121.1V405.8H235.3" fill="none" stroke="#3f5269" stroke-width="1.2"/>
<path d="M38.8 339.2L41 341.4L38.8 343.6L36.6 341.4Z" fill="#3f5269"/>
<path d="M45.2 352.3L47.4 354.5L45.2 356.7L43 354.5Z" fill="#3f5269"/>
<path d="M47.1 363.8L49.3 366L47.1 368.2L44.9 366Z" fill="#3f5269"/>
<path d="M53.2 375.7L55.4 377.9L53.2 380.1L51 377.9Z" fill="#3f5269"/>
<path d="M70.5 388.2L72.7 390.4L70.5 392.6L68.3 390.4Z" fill="#3f5269"/>
<path d="M121.1 403.6L123.3 405.8L121.1 408L118.9 405.8Z" fill="#3f5269"/>
<path d="M76.7 388.2L78.9 390.4L76.7 392.6L74.5 390.4Z" fill="#3f5269"/>
<path d="M100.5 388.2L102.7 390.4L100.5 392.6L98.3 390.4Z" fill="#3f5269"/>
<path d="M235.3 403.6L237.5 405.8L235.3 408L233.1 405.8Z" fill="#3f5269"/>
<path d="M45.2 339.2L47.4 341.4L45.2 343.6L43 341.4Z" fill="#3f5269"/>
<path d="M47.1 363.8L49.3 366L47.1 368.2L44.9 366Z" fill="#3f5269"/>
<path d="M36.35 331.2H36.5V342H36.6V346H36.9V351H38V355H39.6V359.1H41.5V364H42.3V367.4H45V377.1H47.8V384H50.6V389.5H56.1V393.7H61.6V400.6H61.9V404.8H67.7V407.7H71.5V413.5H74V413.5H76.9V421.2H80.7V426.9H86.5V428.8H88.4V431.7H95.2V436.5H107.7V438.5H108V439.5H115.3V446.2H121.1V450H127.8V452.9H131.7V454.8H147.3V456H148.5V460.2H167.8V460.9H179.9V464.5H189.6V466.2H200.4V469.4H204V473H235.3" fill="none" stroke="#3f5269" stroke-width="1.2" stroke-dasharray="2.2 2.2"/>
<path d="M36.5 339.8L38.7 342L36.5 344.2L34.3 342Z" fill="#3f5269"/>
<path d="M36.6 343.8L38.8 346L36.6 348.2L34.4 346Z" fill="#3f5269"/>
<path d="M36.9 348.8L39.1 351L36.9 353.2L34.7 351Z" fill="#3f5269"/>
<path d="M38 352.8L40.2 355L38 357.2L35.8 355Z" fill="#3f5269"/>
<path d="M39.6 356.9L41.8 359.1L39.6 361.3L37.4 359.1Z" fill="#3f5269"/>
<path d="M41.5 361.8L43.7 364L41.5 366.2L39.3 364Z" fill="#3f5269"/>
<path d="M42.3 365.2L44.5 367.4L42.3 369.6L40.1 367.4Z" fill="#3f5269"/>
<path d="M45 374.9L47.2 377.1L45 379.3L42.8 377.1Z" fill="#3f5269"/>
<path d="M47.8 381.8L50 384L47.8 386.2L45.6 384Z" fill="#3f5269"/>
<path d="M50.6 387.3L52.8 389.5L50.6 391.7L48.4 389.5Z" fill="#3f5269"/>
<path d="M56.1 391.5L58.3 393.7L56.1 395.9L53.9 393.7Z" fill="#3f5269"/>
<path d="M61.6 398.4L63.8 400.6L61.6 402.8L59.4 400.6Z" fill="#3f5269"/>
<path d="M61.9 402.6L64.1 404.8L61.9 407L59.7 404.8Z" fill="#3f5269"/>
<path d="M67.7 405.5L69.9 407.7L67.7 409.9L65.5 407.7Z" fill="#3f5269"/>
<path d="M71.5 411.3L73.7 413.5L71.5 415.7L69.3 413.5Z" fill="#3f5269"/>
<path d="M74 411.3L76.2 413.5L74 415.7L71.8 413.5Z" fill="#3f5269"/>
<path d="M76.9 419L79.1 421.2L76.9 423.4L74.7 421.2Z" fill="#3f5269"/>
<path d="M80.7 424.7L82.9 426.9L80.7 429.1L78.5 426.9Z" fill="#3f5269"/>
<path d="M86.5 426.6L88.7 428.8L86.5 431L84.3 428.8Z" fill="#3f5269"/>
<path d="M88.4 429.5L90.6 431.7L88.4 433.9L86.2 431.7Z" fill="#3f5269"/>
<path d="M95.2 434.3L97.4 436.5L95.2 438.7L93 436.5Z" fill="#3f5269"/>
<path d="M107.7 436.3L109.9 438.5L107.7 440.7L105.5 438.5Z" fill="#3f5269"/>
<path d="M108 437.3L110.2 439.5L108 441.7L105.8 439.5Z" fill="#3f5269"/>
<path d="M115.3 444L117.5 446.2L115.3 448.4L113.1 446.2Z" fill="#3f5269"/>
<path d="M121.1 447.8L123.3 450L121.1 452.2L118.9 450Z" fill="#3f5269"/>
<path d="M127.8 450.7L130 452.9L127.8 455.1L125.6 452.9Z" fill="#3f5269"/>
<path d="M131.7 452.6L133.9 454.8L131.7 457L129.5 454.8Z" fill="#3f5269"/>
<path d="M147.3 453.8L149.5 456L147.3 458.2L145.1 456Z" fill="#3f5269"/>
<path d="M148.5 458L150.7 460.2L148.5 462.4L146.3 460.2Z" fill="#3f5269"/>
<path d="M167.8 458.7L170 460.9L167.8 463.1L165.6 460.9Z" fill="#3f5269"/>
<path d="M179.9 462.3L182.1 464.5L179.9 466.7L177.7 464.5Z" fill="#3f5269"/>
<path d="M189.6 464L191.8 466.2L189.6 468.4L187.4 466.2Z" fill="#3f5269"/>
<path d="M200.4 467.2L202.6 469.4L200.4 471.6L198.2 469.4Z" fill="#3f5269"/>
<path d="M204 470.8L206.2 473L204 475.2L201.8 473Z" fill="#3f5269"/>
<path d="M43.5 369.8L45.7 372L43.5 374.2L41.3 372Z" fill="#3f5269"/>
<path d="M46.5 378.8L48.7 381L46.5 383.2L44.3 381Z" fill="#3f5269"/>
<path d="M49 383.8L51.2 386L49 388.2L46.8 386Z" fill="#3f5269"/>
<path d="M52 388.8L54.2 391L52 393.2L49.8 391Z" fill="#3f5269"/>
<path d="M54 389.8L56.2 392L54 394.2L51.8 392Z" fill="#3f5269"/>
<path d="M58 393.8L60.2 396L58 398.2L55.8 396Z" fill="#3f5269"/>
<path d="M60 395.8L62.2 398L60 400.2L57.8 398Z" fill="#3f5269"/>
<path d="M64 402.8L66.2 405L64 407.2L61.8 405Z" fill="#3f5269"/>
<path d="M66 403.8L68.2 406L66 408.2L63.8 406Z" fill="#3f5269"/>
<path d="M69 407.8L71.2 410L69 412.2L66.8 410Z" fill="#3f5269"/>
<path d="M73 412.8L75.2 415L73 417.2L70.8 415Z" fill="#3f5269"/>
<path d="M75 416.8L77.2 419L75 421.2L72.8 419Z" fill="#3f5269"/>
<path d="M78 421.8L80.2 424L78 426.2L75.8 424Z" fill="#3f5269"/>
<path d="M83 425.3L85.2 427.5L83 429.7L80.8 427.5Z" fill="#3f5269"/>
<path d="M90 430.8L92.2 433L90 435.2L87.8 433Z" fill="#3f5269"/>
<path d="M92 432.3L94.2 434.5L92 436.7L89.8 434.5Z" fill="#3f5269"/>
<path d="M98 434.8L100.2 437L98 439.2L95.8 437Z" fill="#3f5269"/>
<path d="M111 438.8L113.2 441L111 443.2L108.8 441Z" fill="#3f5269"/>
<path d="M113 441.8L115.2 444L113 446.2L110.8 444Z" fill="#3f5269"/>
<path d="M118 445.8L120.2 448L118 450.2L115.8 448Z" fill="#3f5269"/>
<path d="M124 449.3L126.2 451.5L124 453.7L121.8 451.5Z" fill="#3f5269"/>
<path d="M130 451.8L132.2 454L130 456.2L127.8 454Z" fill="#3f5269"/>
<path d="M140 452.8L142.2 455L140 457.2L137.8 455Z" fill="#3f5269"/>
<path d="M222.2 470.8L224.4 473L222.2 475.2L220 473Z" fill="#3f5269"/>
<path d="M235.3 470.8L237.5 473L235.3 475.2L233.1 473Z" fill="#3f5269"/>
<path d="M36.35 331.2H36.9V334H38.8V344.6H40.2V351.6H40.2V355.7H40.2V364H43.7V373.7H52V381.9H54.7V390.9H61.6V395.1H66.5V399.2H70.6V403.3H70.8V406.8H74.4V411.6H75.3V416.4H76.9V420.2H88.4V425H88.4V433.7H95.2V437.5H109.6V446.2H113.4V451H125V454.8H153.8V460.6H235.3" fill="none" stroke="#c8102e" stroke-width="1.2" stroke-dasharray="2.3 1.5"/>
<path d="M35.01 332.3L38.79 332.3L36.9 336.08Z" fill="#c8102e"/>
<path d="M36.91 342.9L40.69 342.9L38.8 346.68Z" fill="#c8102e"/>
<path d="M38.31 349.9L42.09 349.9L40.2 353.68Z" fill="#c8102e"/>
<path d="M38.31 354L42.09 354L40.2 357.78Z" fill="#c8102e"/>
<path d="M38.31 362.3L42.09 362.3L40.2 366.08Z" fill="#c8102e"/>
<path d="M41.81 372L45.59 372L43.7 375.78Z" fill="#c8102e"/>
<path d="M50.11 380.2L53.89 380.2L52 383.98Z" fill="#c8102e"/>
<path d="M52.81 389.2L56.59 389.2L54.7 392.98Z" fill="#c8102e"/>
<path d="M59.71 393.4L63.49 393.4L61.6 397.18Z" fill="#c8102e"/>
<path d="M64.61 397.5L68.39 397.5L66.5 401.28Z" fill="#c8102e"/>
<path d="M68.71 401.6L72.49 401.6L70.6 405.38Z" fill="#c8102e"/>
<path d="M68.91 405.1L72.69 405.1L70.8 408.88Z" fill="#c8102e"/>
<path d="M72.51 409.9L76.29 409.9L74.4 413.68Z" fill="#c8102e"/>
<path d="M73.41 414.7L77.19 414.7L75.3 418.48Z" fill="#c8102e"/>
<path d="M75.01 418.5L78.79 418.5L76.9 422.28Z" fill="#c8102e"/>
<path d="M86.51 423.3L90.29 423.3L88.4 427.08Z" fill="#c8102e"/>
<path d="M86.51 432L90.29 432L88.4 435.78Z" fill="#c8102e"/>
<path d="M93.31 435.8L97.09 435.8L95.2 439.58Z" fill="#c8102e"/>
<path d="M107.71 444.5L111.49 444.5L109.6 448.28Z" fill="#c8102e"/>
<path d="M111.51 449.3L115.29 449.3L113.4 453.08Z" fill="#c8102e"/>
<path d="M123.11 453.1L126.89 453.1L125 456.88Z" fill="#c8102e"/>
<path d="M151.91 458.9L155.69 458.9L153.8 462.68Z" fill="#c8102e"/>
<path d="M36.11 338.3L39.89 338.3L38 342.08Z" fill="#c8102e"/>
<path d="M38.31 358.3L42.09 358.3L40.2 362.08Z" fill="#c8102e"/>
<path d="M40.11 367.3L43.89 367.3L42 371.08Z" fill="#c8102e"/>
<path d="M46.11 376.3L49.89 376.3L48 380.08Z" fill="#c8102e"/>
<path d="M134.61 453.1L138.39 453.1L136.5 456.88Z" fill="#c8102e"/>
<path d="M173.11 458.9L176.89 458.9L175 462.68Z" fill="#c8102e"/>
<path d="M233.41 458.9L237.19 458.9L235.3 462.68Z" fill="#c8102e"/>
<path d="M247 379.5H250.5V461.5H247" fill="none" stroke="#231f20" stroke-width="1.2"/>
<path d="M239.3 404.8H244.2V474.3H239.3" fill="none" stroke="#231f20" stroke-width="1.2"/>
<g fill="#231f20"><circle cx="230.7" cy="390.2" r="1.2"/><circle cx="234.2" cy="390.2" r="1.2"/><circle cx="237.7" cy="390.2" r="1.2"/><circle cx="241.2" cy="390.2" r="1.2"/></g>
<g fill="#231f20"><circle cx="239.5" cy="437.9" r="1.2"/></g>
<text x="123.7" y="538" class="nn">N</text>
<text x="231.2" y="538" class="nn">N</text>
<path d="M36 546.7H49" stroke="#3f5269" stroke-width="1.2" stroke-dasharray="2.2 2.2"/>
<path d="M42.5 544.5L44.7 546.7L42.5 548.9L40.3 546.7Z" fill="#3f5269"/>
<text x="52" y="549.4" class="lg" textLength="65" lengthAdjust="spacingAndGlyphs">HScore≥169 / OHI+</text>
<text x="131.3" y="549.4" class="lg" text-anchor="end">78</text>
<path d="M36 560.4H49" stroke="#3f5269" stroke-width="1.2"/>
<path d="M42.5 558.2L44.7 560.4L42.5 562.6L40.3 560.4Z" fill="#3f5269"/>
<text x="52" y="563.1" class="lg" textLength="65" lengthAdjust="spacingAndGlyphs">HScore≥169 / OHI–</text>
<text x="131.3" y="563.1" class="lg" text-anchor="end">15</text>
<path d="M141.2 546.7H154.2" stroke="#c8102e" stroke-width="1.2"/>
<path d="M145.6 548.5L149.8 548.5L147.7 544.5Z" fill="#c8102e"/>
<text x="157.2" y="549.4" class="lg" textLength="65.5" lengthAdjust="spacingAndGlyphs">HScore&lt;169 / OHI–</text>
<text x="239.5" y="549.4" class="lg" text-anchor="end">93</text>
<path d="M141.2 560.4H154.2" stroke="#c8102e" stroke-width="1.2" stroke-dasharray="2.3 1.5"/>
<path d="M145.6 558.51L149.8 558.51L147.7 562.71Z" fill="#c8102e"/>
<text x="157.2" y="563.1" class="lg" textLength="65.5" lengthAdjust="spacingAndGlyphs">HScore&lt;169 / OHI+</text>
<text x="239.5" y="563.1" class="lg" text-anchor="end">39</text>
<text x="263.4" y="321" class="pl">D</text>
<text x="348" y="321.8" class="pt" textLength="92" lengthAdjust="spacingAndGlyphs">Individual inflammatory</text>
<text x="343.8" y="330.5" class="pt" textLength="100.7" lengthAdjust="spacingAndGlyphs">markers versus OHI index</text>
<path d="M292.6 327.3V498.7H495.1" fill="none" stroke="#231f20" stroke-width="1.3"/>
<path d="M289.6 498.7H292.6M289.6 481.97H292.6M289.6 465.24H292.6M289.6 448.51H292.6M289.6 431.78H292.6M289.6 415.05H292.6M289.6 398.32H292.6M289.6 381.59H292.6M289.6 364.86H292.6M289.6 348.13H292.6M289.6 331.4H292.6M292.6 498.7V501.9M332.22 498.7V501.9M371.84 498.7V501.9M411.46 498.7V501.9M451.08 498.7V501.9M490.7 498.7V501.9" stroke="#231f20" stroke-width="1.1"/>
<text x="287.3" y="501.2" text-anchor="end" class="tk" textLength="4.1" lengthAdjust="spacingAndGlyphs">0</text>
<text x="287.3" y="484.47" text-anchor="end" class="tk" textLength="8.3" lengthAdjust="spacingAndGlyphs">10</text>
<text x="287.3" y="467.74" text-anchor="end" class="tk" textLength="8.3" lengthAdjust="spacingAndGlyphs">20</text>
<text x="287.3" y="451.01" text-anchor="end" class="tk" textLength="8.3" lengthAdjust="spacingAndGlyphs">30</text>
<text x="287.3" y="434.28" text-anchor="end" class="tk" textLength="8.3" lengthAdjust="spacingAndGlyphs">40</text>
<text x="287.3" y="417.55" text-anchor="end" class="tk" textLength="8.3" lengthAdjust="spacingAndGlyphs">50</text>
<text x="287.3" y="400.82" text-anchor="end" class="tk" textLength="8.3" lengthAdjust="spacingAndGlyphs">60</text>
<text x="287.3" y="384.09" text-anchor="end" class="tk" textLength="8.3" lengthAdjust="spacingAndGlyphs">70</text>
<text x="287.3" y="367.36" text-anchor="end" class="tk" textLength="8.3" lengthAdjust="spacingAndGlyphs">80</text>
<text x="287.3" y="350.63" text-anchor="end" class="tk" textLength="8.3" lengthAdjust="spacingAndGlyphs">90</text>
<text x="287.3" y="333.9" text-anchor="end" class="tk" textLength="12.4" lengthAdjust="spacingAndGlyphs">100</text>
<text x="292.6" y="511" text-anchor="middle" class="tk" textLength="4.1" lengthAdjust="spacingAndGlyphs">0</text>
<text x="332.22" y="511" text-anchor="middle" class="tk" textLength="12.6" lengthAdjust="spacingAndGlyphs">100</text>
<text x="371.84" y="511" text-anchor="middle" class="tk" textLength="12.6" lengthAdjust="spacingAndGlyphs">200</text>
<text x="411.46" y="511" text-anchor="middle" class="tk" textLength="12.6" lengthAdjust="spacingAndGlyphs">300</text>
<text x="451.08" y="511" text-anchor="middle" class="tk" textLength="12.6" lengthAdjust="spacingAndGlyphs">400</text>
<text x="490.7" y="511" text-anchor="middle" class="tk" textLength="12.6" lengthAdjust="spacingAndGlyphs">500</text>
<text x="393.95" y="524.1" text-anchor="middle" class="at" textLength="97.4" lengthAdjust="spacingAndGlyphs">Days from initial presentation</text>
<text transform="translate(271.3 413.1) rotate(-90)" text-anchor="middle" class="yl" textLength="70.8" lengthAdjust="spacingAndGlyphs">Probability of survival</text>
<path d="M292.6 331.4H292.9V334.9H299.6V337.1H310.2V340H316.9V342.8H341V345.7H362V348.4H383.3V351.3H423.6V355.4H490.7" fill="none" stroke="#5b2e0d" stroke-width="1.2" stroke-dasharray="2.2 2.2"/>
<path d="M292.9 332.7L295.1 334.9L292.9 337.1L290.7 334.9Z" fill="#5b2e0d"/>
<path d="M299.6 334.9L301.8 337.1L299.6 339.3L297.4 337.1Z" fill="#5b2e0d"/>
<path d="M310.2 337.8L312.4 340L310.2 342.2L308 340Z" fill="#5b2e0d"/>
<path d="M316.9 340.6L319.1 342.8L316.9 345L314.7 342.8Z" fill="#5b2e0d"/>
<path d="M341 343.5L343.2 345.7L341 347.9L338.8 345.7Z" fill="#5b2e0d"/>
<path d="M362 346.2L364.2 348.4L362 350.6L359.8 348.4Z" fill="#5b2e0d"/>
<path d="M383.3 349.1L385.5 351.3L383.3 353.5L381.1 351.3Z" fill="#5b2e0d"/>
<path d="M423.6 353.2L425.8 355.4L423.6 357.6L421.4 355.4Z" fill="#5b2e0d"/>
<path d="M331.3 340.6L333.5 342.8L331.3 345L329.1 342.8Z" fill="#5b2e0d"/>
<path d="M350.6 343.5L352.8 345.7L350.6 347.9L348.4 345.7Z" fill="#5b2e0d"/>
<path d="M368.8 346.2L371 348.4L368.8 350.6L366.6 348.4Z" fill="#5b2e0d"/>
<path d="M371.7 346.2L373.9 348.4L371.7 350.6L369.5 348.4Z" fill="#5b2e0d"/>
<path d="M397.8 349.3L400 351.5L397.8 353.7L395.6 351.5Z" fill="#5b2e0d"/>
<path d="M412 349.3L414.2 351.5L412 353.7L409.8 351.5Z" fill="#5b2e0d"/>
<path d="M416 349.3L418.2 351.5L416 353.7L413.8 351.5Z" fill="#5b2e0d"/>
<path d="M421 349.3L423.2 351.5L421 353.7L418.8 351.5Z" fill="#5b2e0d"/>
<path d="M435 353.2L437.2 355.4L435 357.6L432.8 355.4Z" fill="#5b2e0d"/>
<path d="M453 353.2L455.2 355.4L453 357.6L450.8 355.4Z" fill="#5b2e0d"/>
<path d="M455.5 353.2L457.7 355.4L455.5 357.6L453.3 355.4Z" fill="#5b2e0d"/>
<path d="M459 353.2L461.2 355.4L459 357.6L456.8 355.4Z" fill="#5b2e0d"/>
<path d="M464 353.2L466.2 355.4L464 357.6L461.8 355.4Z" fill="#5b2e0d"/>
<path d="M468 353.2L470.2 355.4L468 357.6L465.8 355.4Z" fill="#5b2e0d"/>
<path d="M474 353.2L476.2 355.4L474 357.6L471.8 355.4Z" fill="#5b2e0d"/>
<path d="M486.4 353.2L488.6 355.4L486.4 357.6L484.2 355.4Z" fill="#5b2e0d"/>
<path d="M491 353.2L493.2 355.4L491 357.6L488.8 355.4Z" fill="#5b2e0d"/>
<path d="M292.6 331.4H294V338.7H309.2V346.2H316V353.3H319.8V360.6H322.3V367.9H349.6V375.6H414.6V383H430.1V390.8H490.7" fill="none" stroke="#7676c6" stroke-width="1.2" stroke-dasharray="1.4 1.6"/>
<path d="M294 336.5L296.2 338.7L294 340.9L291.8 338.7Z" fill="#7676c6"/>
<path d="M309.2 344L311.4 346.2L309.2 348.4L307 346.2Z" fill="#7676c6"/>
<path d="M316 351.1L318.2 353.3L316 355.5L313.8 353.3Z" fill="#7676c6"/>
<path d="M319.8 358.4L322 360.6L319.8 362.8L317.6 360.6Z" fill="#7676c6"/>
<path d="M322.3 365.7L324.5 367.9L322.3 370.1L320.1 367.9Z" fill="#7676c6"/>
<path d="M349.6 373.4L351.8 375.6L349.6 377.8L347.4 375.6Z" fill="#7676c6"/>
<path d="M414.6 380.8L416.8 383L414.6 385.2L412.4 383Z" fill="#7676c6"/>
<path d="M430.1 388.6L432.3 390.8L430.1 393L427.9 390.8Z" fill="#7676c6"/>
<path d="M332.9 365.7L335.1 367.9L332.9 370.1L330.7 367.9Z" fill="#7676c6"/>
<path d="M453.4 388.6L455.6 390.8L453.4 393L451.2 390.8Z" fill="#7676c6"/>
<path d="M471.4 388.6L473.6 390.8L471.4 393L469.2 390.8Z" fill="#7676c6"/>
<path d="M484.4 388.6L486.6 390.8L484.4 393L482.2 390.8Z" fill="#7676c6"/>
<path d="M490.7 388.6L492.9 390.8L490.7 393L488.5 390.8Z" fill="#7676c6"/>
<path d="M292.6 331.4H293.5V342.3H295.5V351H296.8V360.6H298.5V368.3H301.2V377H305.4V383.7H311.2V391.4H317.9V396.2H317.9V402.9H324.6V406.8H327.5V412.5H331.3V417.3H336.2V424.1H342.9V426H344.4V432.9H351.2V436.7H354V438.7H363.7V439.6H367.5V444.4H371.3V448.3H377.1V451.2H383.8V454H391.5V456H402.9V456.8H409.4V459.4H423.6V461.2H435.3V463.3H445.6V464.6H456V465.9H458.6V468.5H461.2V469.8H490.7" fill="none" stroke="#c40a30" stroke-width="1.2" stroke-dasharray="1.8 2.4"/>
<circle cx="293.5" cy="342.3" r="1.96" fill="#c40a30"/>
<circle cx="295.5" cy="351" r="1.96" fill="#c40a30"/>
<circle cx="296.8" cy="360.6" r="1.96" fill="#c40a30"/>
<circle cx="298.5" cy="368.3" r="1.96" fill="#c40a30"/>
<circle cx="301.2" cy="377" r="1.96" fill="#c40a30"/>
<circle cx="305.4" cy="383.7" r="1.96" fill="#c40a30"/>
<circle cx="311.2" cy="391.4" r="1.96" fill="#c40a30"/>
<circle cx="317.9" cy="396.2" r="1.96" fill="#c40a30"/>
<circle cx="317.9" cy="402.9" r="1.96" fill="#c40a30"/>
<circle cx="324.6" cy="406.8" r="1.96" fill="#c40a30"/>
<circle cx="327.5" cy="412.5" r="1.96" fill="#c40a30"/>
<circle cx="331.3" cy="417.3" r="1.96" fill="#c40a30"/>
<circle cx="336.2" cy="424.1" r="1.96" fill="#c40a30"/>
<circle cx="342.9" cy="426" r="1.96" fill="#c40a30"/>
<circle cx="344.4" cy="432.9" r="1.96" fill="#c40a30"/>
<circle cx="351.2" cy="436.7" r="1.96" fill="#c40a30"/>
<circle cx="354" cy="438.7" r="1.96" fill="#c40a30"/>
<circle cx="363.7" cy="439.6" r="1.96" fill="#c40a30"/>
<circle cx="367.5" cy="444.4" r="1.96" fill="#c40a30"/>
<circle cx="371.3" cy="448.3" r="1.96" fill="#c40a30"/>
<circle cx="377.1" cy="451.2" r="1.96" fill="#c40a30"/>
<circle cx="383.8" cy="454" r="1.96" fill="#c40a30"/>
<circle cx="391.5" cy="456" r="1.96" fill="#c40a30"/>
<circle cx="402.9" cy="456.8" r="1.96" fill="#c40a30"/>
<circle cx="409.4" cy="459.4" r="1.96" fill="#c40a30"/>
<circle cx="423.6" cy="461.2" r="1.96" fill="#c40a30"/>
<circle cx="435.3" cy="463.3" r="1.96" fill="#c40a30"/>
<circle cx="445.6" cy="464.6" r="1.96" fill="#c40a30"/>
<circle cx="456" cy="465.9" r="1.96" fill="#c40a30"/>
<circle cx="458.6" cy="468.5" r="1.96" fill="#c40a30"/>
<circle cx="461.2" cy="469.8" r="1.96" fill="#c40a30"/>
<circle cx="294.3" cy="346" r="1.96" fill="#c40a30"/>
<circle cx="296" cy="355" r="1.96" fill="#c40a30"/>
<circle cx="297.2" cy="364" r="1.96" fill="#c40a30"/>
<circle cx="298" cy="372" r="1.96" fill="#c40a30"/>
<circle cx="299.5" cy="374" r="1.96" fill="#c40a30"/>
<circle cx="300.5" cy="379" r="1.96" fill="#c40a30"/>
<circle cx="302.5" cy="380" r="1.96" fill="#c40a30"/>
<circle cx="303.5" cy="382" r="1.96" fill="#c40a30"/>
<circle cx="307" cy="386" r="1.96" fill="#c40a30"/>
<circle cx="309" cy="389" r="1.96" fill="#c40a30"/>
<circle cx="313" cy="393" r="1.96" fill="#c40a30"/>
<circle cx="315" cy="395" r="1.96" fill="#c40a30"/>
<circle cx="320" cy="404" r="1.96" fill="#c40a30"/>
<circle cx="322" cy="405" r="1.96" fill="#c40a30"/>
<circle cx="326" cy="410" r="1.96" fill="#c40a30"/>
<circle cx="329" cy="415" r="1.96" fill="#c40a30"/>
<circle cx="333" cy="420" r="1.96" fill="#c40a30"/>
<circle cx="335" cy="422" r="1.96" fill="#c40a30"/>
<circle cx="338" cy="425" r="1.96" fill="#c40a30"/>
<circle cx="346" cy="434" r="1.96" fill="#c40a30"/>
<circle cx="349" cy="436" r="1.96" fill="#c40a30"/>
<circle cx="366" cy="442" r="1.96" fill="#c40a30"/>
<circle cx="369" cy="446" r="1.96" fill="#c40a30"/>
<circle cx="373" cy="449" r="1.96" fill="#c40a30"/>
<circle cx="375" cy="450.5" r="1.96" fill="#c40a30"/>
<circle cx="380" cy="452.5" r="1.96" fill="#c40a30"/>
<circle cx="387" cy="455" r="1.96" fill="#c40a30"/>
<circle cx="395" cy="456.5" r="1.96" fill="#c40a30"/>
<circle cx="430.1" cy="461.5" r="1.96" fill="#c40a30"/>
<circle cx="478.6" cy="469.8" r="1.96" fill="#c40a30"/>
<circle cx="491" cy="469.8" r="1.96" fill="#c40a30"/>
<path d="M292.6 331.4H294.1V338H294.5V348H294.8V357.1H299.7V363.3H300.4V370.2H301.7V377.8H303.1V384H326.6V390.9H329.4V397.8H369.4V405H377.1V413.1H381.9V420.8H414V429.6H490.7" fill="none" stroke="#f7941d" stroke-width="1.2"/>
<circle cx="294.5" cy="351.6" r="1.93" fill="#f7941d"/>
<circle cx="300.4" cy="363.3" r="1.93" fill="#f7941d"/>
<circle cx="301.7" cy="370.2" r="1.93" fill="#f7941d"/>
<circle cx="303.1" cy="377.8" r="1.93" fill="#f7941d"/>
<circle cx="304.5" cy="384" r="1.93" fill="#f7941d"/>
<circle cx="326.6" cy="390.9" r="1.93" fill="#f7941d"/>
<circle cx="329.4" cy="397.8" r="1.93" fill="#f7941d"/>
<circle cx="356.9" cy="397.9" r="1.93" fill="#f7941d"/>
<circle cx="366.5" cy="397.9" r="1.93" fill="#f7941d"/>
<circle cx="370" cy="405" r="1.93" fill="#f7941d"/>
<circle cx="377.1" cy="405" r="1.93" fill="#f7941d"/>
<circle cx="377.1" cy="413.1" r="1.93" fill="#f7941d"/>
<circle cx="381.9" cy="413.1" r="1.93" fill="#f7941d"/>
<circle cx="381.9" cy="420.8" r="1.93" fill="#f7941d"/>
<circle cx="413.7" cy="420.8" r="1.93" fill="#f7941d"/>
<circle cx="414" cy="429.6" r="1.93" fill="#f7941d"/>
<circle cx="451.3" cy="429.1" r="1.93" fill="#f7941d"/>
<circle cx="490.7" cy="429.1" r="1.93" fill="#f7941d"/>
<path d="M495.3 357H513.5V473.5H495.3" fill="none" stroke="#231f20" stroke-width="1.2"/>
<path d="M494.4 359.5H495.6V385.7H494.4" fill="none" stroke="#231f20" stroke-width="1.2"/>
<path d="M495.3 388.3H506.5V468.7H495.3" fill="none" stroke="#231f20" stroke-width="1.2"/>
<path d="M495 430.9H501.5V464.5H495" fill="none" stroke="#231f20" stroke-width="1.2"/>
<g fill="#231f20"><circle cx="491.1" cy="374.65" r="1.2"/></g>
<g fill="#231f20"><circle cx="498.7" cy="374.65" r="1.2"/><circle cx="502.2" cy="374.65" r="1.2"/><circle cx="505.7" cy="374.65" r="1.2"/><circle cx="509.2" cy="374.65" r="1.2"/></g>
<g fill="#231f20"><circle cx="489.6" cy="408.1" r="1.2"/><circle cx="493.1" cy="408.1" r="1.2"/><circle cx="496.6" cy="408.1" r="1.2"/></g>
<g fill="#231f20"><circle cx="493.35" cy="446" r="1.2"/></g>
<text x="387.6" y="538.4" class="nn">N</text>
<text x="482.6" y="538.4" class="nn">N</text>
<path d="M295 546.6H307.5" stroke="#7676c6" stroke-width="1.2" stroke-dasharray="1.4 1.6"/>
<path d="M301.25 544.4L303.45 546.6L301.25 548.8L299.05 546.6Z" fill="#7676c6"/>
<text x="310.5" y="549.3" class="lg" textLength="69.3" lengthAdjust="spacingAndGlyphs">OHI–/ sCD25 &gt;3,900</text>
<text x="394.5" y="549.3" class="lg" text-anchor="end">23</text>
<path d="M295 560.8H307.5" stroke="#f7941d" stroke-width="1.2"/>
<circle cx="301.25" cy="560.8" r="1.75" fill="#f7941d"/>
<text x="310.5" y="563.5" class="lg" textLength="69.3" lengthAdjust="spacingAndGlyphs">OHI–/Ferritin &gt;1,000</text>
<text x="394.5" y="563.5" class="lg" text-anchor="end">26</text>
<path d="M406 546.6H419.5" stroke="#c40a30" stroke-width="1.2" stroke-dasharray="2.2 2.2"/>
<circle cx="412.75" cy="546.6" r="1.75" fill="#c40a30"/>
<text x="422.5" y="549.3" class="lg" textLength="46.3" lengthAdjust="spacingAndGlyphs">OHI+ positive</text>
<text x="492" y="549.3" class="lg" text-anchor="end">117</text>
<path d="M406 560H419.5" stroke="#5b2e0d" stroke-width="1.2" stroke-dasharray="2.2 2.2"/>
<path d="M412.75 557.8L414.95 560L412.75 562.2L410.55 560Z" fill="#5b2e0d"/>
<text x="422.5" y="562.7" class="lg" textLength="55.5" lengthAdjust="spacingAndGlyphs">No inflammatory</text>
<text x="492" y="562.7" class="lg" text-anchor="end">59</text>
<text x="422.5" y="571.8" class="lg" textLength="26.3" lengthAdjust="spacingAndGlyphs">markers</text>
</svg></body></html>
